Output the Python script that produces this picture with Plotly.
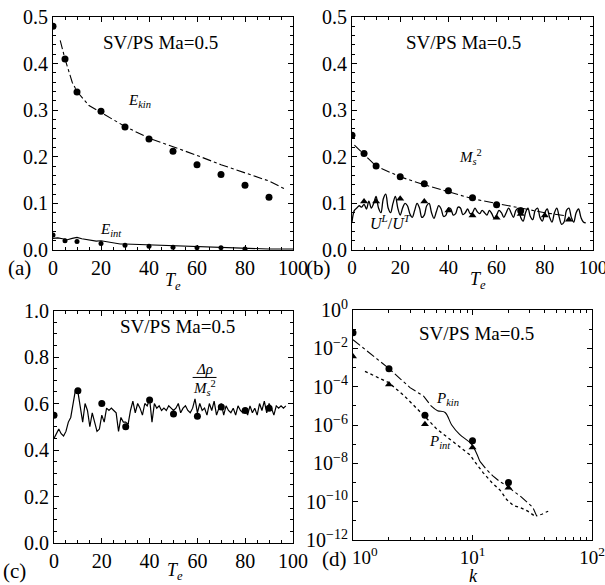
import plotly.graph_objects as go

# ---------------- panel (a) ----------------
a_dot_t = [0, 5, 10, 20, 30, 40, 50, 60, 70, 80, 90]
a_ekin_dots = [0.48, 0.41, 0.339, 0.298, 0.264, 0.238, 0.212, 0.183, 0.162, 0.139, 0.113]
a_ekin_line_t = [3, 5, 8, 10, 15, 20, 30, 40, 50, 60, 70, 80, 90, 97]
a_ekin_line = [0.45, 0.41, 0.36, 0.34, 0.31, 0.295, 0.265, 0.24, 0.222, 0.203, 0.183, 0.165, 0.148, 0.13]
a_eint_dot_t = [0, 5, 10, 20, 30, 40, 50, 60, 70, 80]
a_eint_dots = [0.032, 0.02, 0.018, 0.014, 0.01, 0.008, 0.006, 0.005, 0.005, 0.002]
a_eint_line_t = [0, 2, 4, 6, 8, 10, 12, 14, 16, 18, 20, 22, 24, 26, 28, 30, 35, 40, 45, 50,
                 55, 60, 65, 70, 75, 80, 85, 90, 95, 100]
a_eint_line = [0.025, 0.026, 0.024, 0.022, 0.025, 0.027, 0.024, 0.022, 0.02, 0.019, 0.02, 0.018,
               0.016, 0.015, 0.013, 0.013, 0.012, 0.011, 0.01, 0.009, 0.008, 0.007, 0.006, 0.005,
               0.004, 0.003, 0.003, 0.002, 0.002, 0.002]

# ---------------- panel (b) ----------------
b_ms_t = [0, 5, 10, 20, 30, 40, 50, 60, 70]
b_ms_dots = [0.246, 0.207, 0.18, 0.157, 0.142, 0.127, 0.112, 0.097, 0.084]
b_ms_line_t = [1, 5, 10, 20, 30, 40, 50, 60, 70, 80, 88]
b_ms_line = [0.225, 0.205, 0.18, 0.157, 0.14, 0.125, 0.11, 0.1, 0.09, 0.08, 0.074]
b_u_tri_t = [5, 10, 20, 30, 40, 50, 60, 70, 80, 90]
b_u_tri = [0.104, 0.104, 0.11, 0.104, 0.085, 0.074, 0.069, 0.077, 0.074, 0.065]
b_u_line_t = list(range(0, 98))
b_u_line = [0.06, 0.085, 0.09, 0.095, 0.092, 0.098, 0.088, 0.105, 0.09, 0.1,
            0.115, 0.09, 0.08, 0.11, 0.12, 0.09, 0.08, 0.1, 0.115, 0.09,
            0.075, 0.09, 0.1, 0.095, 0.078, 0.07, 0.085, 0.1, 0.09, 0.07,
            0.075, 0.095, 0.1, 0.08, 0.068, 0.082, 0.095, 0.088, 0.072, 0.075,
            0.09, 0.088, 0.075, 0.078, 0.092, 0.09, 0.076, 0.08, 0.088, 0.078,
            0.08, 0.09, 0.082, 0.078, 0.085, 0.08, 0.075, 0.085, 0.078, 0.068,
            0.075, 0.085, 0.08, 0.07, 0.08, 0.09, 0.08, 0.07, 0.085, 0.09,
            0.07, 0.062, 0.08, 0.09, 0.072, 0.065, 0.085, 0.09, 0.07, 0.062,
            0.08, 0.088, 0.07, 0.06, 0.08, 0.09, 0.07, 0.055, 0.06, 0.085,
            0.09, 0.07, 0.06, 0.08, 0.088, 0.07, 0.06, 0.058]

# ---------------- panel (c) ----------------
c_dot_t = [0, 10, 20, 30, 40, 50, 60, 70, 80, 90]
c_dots = [0.55, 0.655, 0.6, 0.5, 0.615, 0.555, 0.545, 0.585, 0.57, 0.58]
c_line_t = list(range(0, 98))
c_line = [0.45, 0.47, 0.49, 0.47, 0.46, 0.48, 0.52, 0.54, 0.60, 0.66,
          0.65, 0.58, 0.52, 0.60, 0.57, 0.50, 0.56, 0.52, 0.48, 0.49,
          0.55, 0.52, 0.58, 0.57, 0.58, 0.57, 0.56, 0.48, 0.54, 0.52,
          0.52, 0.51, 0.57, 0.61, 0.56, 0.60, 0.58, 0.55, 0.60, 0.59,
          0.62, 0.52, 0.60, 0.58, 0.59, 0.57, 0.58, 0.57, 0.59, 0.58,
          0.57, 0.58, 0.60, 0.56, 0.58, 0.59, 0.57, 0.56, 0.58, 0.62,
          0.56, 0.60, 0.57, 0.58, 0.55, 0.60, 0.57, 0.61, 0.55, 0.58,
          0.60, 0.55, 0.59, 0.57, 0.56, 0.58, 0.55, 0.59, 0.57, 0.56,
          0.58, 0.55, 0.59, 0.56, 0.58, 0.55, 0.60, 0.57, 0.61, 0.56,
          0.60, 0.58, 0.55, 0.59, 0.58, 0.59, 0.58, 0.59]

# ---------------- panel (d) ----------------
d_k = [1, 2, 4, 10, 20]
d_pkin_dots = [6.6e-2, 8.7e-4, 3.2e-6, 1.5e-7, 1.0e-9]
d_pint_tri = [3.8e-3, 1.3e-4, 1.1e-6, 6.8e-8, 5.4e-10]
d_pkin_k = [1, 1.5, 2, 2.5, 3, 3.9, 4.5, 5.1, 5.9, 6.7, 7.8, 9.8, 11.5, 13, 14.8, 17,
            19.3, 22, 25, 28, 32, 34.4, 38, 43]
d_pkin = [2.8e-2, 3.5e-3, 8.9e-4, 2.5e-4, 8.9e-5, 3.2e-5, 1.0e-5, 5.6e-6, 4.5e-6, 1.0e-6,
          3.2e-7, 1.0e-7, 1.3e-8, 5.0e-9, 2.2e-9, 1.1e-9, 7.1e-10, 3.5e-10, 2.0e-10,
          1.1e-10, 5.0e-11, 1.8e-11, 2.2e-11, 3.2e-11]
d_pint_k = [1.26, 1.6, 2, 2.7, 3.4, 4.2, 5, 5.9, 6.8, 8, 9.5, 11, 12.3, 14.5, 17, 19.3,
            22, 25, 29, 34]
d_pint = [6.3e-4, 3.2e-4, 1.6e-4, 3.2e-5, 7.9e-6, 2.0e-6, 6.3e-7, 2.8e-7, 1.4e-7, 6.3e-8,
          2.8e-8, 7.9e-9, 3.2e-9, 1.0e-9, 4.0e-10, 1.3e-10, 6.3e-11, 5.0e-11, 3.2e-11, 1.6e-11]
d_xtick_vals = [1, 10, 100]
d_xtick_text = ["\u00a0\u00a0\u00a0\u00a0\u00a010<sup>0</sup>", "10<sup>1</sup>", "10<sup>2</sup>"]
d_ytick_vals = [1, 1e-2, 1e-4, 1e-6, 1e-8, 1e-10, 1e-12]
d_ytick_text = ["10<sup>0</sup>", "10<sup>−2</sup>", "10<sup>−4</sup>", "10<sup>−6</sup>",
                "10<sup>−8</sup>", "10<sup>−10</sup>", "10<sup>−12</sup>"]

FONT = "Liberation Serif, DejaVu Serif, Times New Roman, serif"
BLACK = "black"

fig = go.Figure()

def line(x, y, xa, ya, dash="solid", width=1.1, shape="linear"):
    fig.add_trace(go.Scatter(x=x, y=y, mode="lines", xaxis=xa, yaxis=ya,
                             line=dict(color=BLACK, width=width, dash=dash, shape=shape),
                             showlegend=False, hoverinfo="skip"))

def marks(x, y, xa, ya, symbol="circle", size=7):
    fig.add_trace(go.Scatter(x=x, y=y, mode="markers", xaxis=xa, yaxis=ya,
                             marker=dict(color=BLACK, size=size, symbol=symbol),
                             showlegend=False, hoverinfo="skip"))

# (a)
line(a_ekin_line_t, a_ekin_line, "x", "y", dash="dashdot")
marks(a_dot_t, a_ekin_dots, "x", "y")
line(a_eint_line_t, a_eint_line, "x", "y")
marks(a_eint_dot_t, a_eint_dots, "x", "y", size=5)
# (b)
line(b_ms_line_t, b_ms_line, "x2", "y2", dash="dashdot")
marks(b_ms_t, b_ms_dots, "x2", "y2")
line(b_u_line_t, b_u_line, "x2", "y2", shape="spline", width=1.3)
marks(b_u_tri_t, b_u_tri, "x2", "y2", symbol="triangle-up")
# (c)
line(c_line_t, c_line, "x3", "y3", width=1.2)
marks(c_dot_t, c_dots, "x3", "y3")
# (d)
line(d_pkin_k[:7], d_pkin[:7], "x4", "y4", dash="dashdot")
line(d_pkin_k[6:13], d_pkin[6:13], "x4", "y4", shape="spline")
line(d_pkin_k[12:], d_pkin[12:], "x4", "y4", dash="dashdot")
line(d_pint_k, d_pint, "x4", "y4", dash="dot", width=1.3)
marks(d_k, d_pkin_dots, "x4", "y4")
marks(d_k, d_pint_tri, "x4", "y4", symbol="triangle-up")

def axis(domain, rng, dtick, minor_dtick, anchor, typ="linear", fmt=None,
         tickvals=None, ticktext=None, size=20):
    d = dict(domain=domain, range=rng, type=typ, anchor=anchor, automargin=False,
             ticklabeloverflow="allow",
             showline=True, linecolor=BLACK, linewidth=1.2, mirror="allticks",
             ticks="inside", ticklen=5, tickcolor=BLACK, showgrid=False, zeroline=False,
             tickfont=dict(family=FONT, size=size, color=BLACK),
             minor=dict(ticks="inside", ticklen=3, dtick=minor_dtick, tickcolor=BLACK,
                        showgrid=False))
    if tickvals is not None:
        d["tickmode"] = "array"
        d["tickvals"] = tickvals
        d["ticktext"] = ticktext
    else:
        d["dtick"] = dtick
    if fmt:
        d["tickformat"] = fmt
    return d

Y_TOP = [1 - 250 / 585, 1 - 17 / 585]
Y_BOT_C = [1 - 543 / 585, 1 - 310.5 / 585]
Y_BOT_D = [1 - 540 / 585, 1 - 310 / 585]

fig.update_layout(
    width=605, height=585, margin=dict(l=0, r=0, t=0, b=0),
    paper_bgcolor="white", plot_bgcolor="white",
    font=dict(family=FONT, size=18, color=BLACK),
    xaxis=axis([53 / 605, 293 / 605], [0, 100], 20, 5, "y", fmt="d"),
    yaxis=axis(Y_TOP, [0, 0.5], 0.1, 0.02, "x", fmt=".1f"),
    xaxis2=axis([352 / 605, 593 / 605], [0, 100], 20, 5, "y2", fmt="d", size=19),
    yaxis2=axis(Y_TOP, [0, 0.5], 0.1, 0.02, "x2", fmt=".1f"),
    xaxis3=axis([54 / 605, 293 / 605], [0, 100], 20, 5, "y3", fmt="d"),
    yaxis3=axis(Y_BOT_C, [0, 1], 0.2, 0.05, "x3", fmt=".1f"),
    xaxis4=axis([353 / 605, 592 / 605], [0, 2], None, "D1", "y4", typ="log",
                tickvals=d_xtick_vals, ticktext=d_xtick_text, size=19),
    yaxis4=axis(Y_BOT_D, [-12, 0], None, 1, "x4", typ="log",
                tickvals=d_ytick_vals, ticktext=d_ytick_text),
)

def ann(text, x, y, xref="paper", yref="paper", size=18):
    fig.add_annotation(text=text, x=x, y=y, xref=xref, yref=yref, showarrow=False,
                       font=dict(family=FONT, size=size, color=BLACK),
                       xanchor="center", yanchor="middle")

title = "SV/PS Ma=0.5"
ann(title, 160 / 605, 1 - 43 / 585, size=19)
ann(title, 463 / 605, 1 - 43 / 585, size=19)
ann(title, 177 / 605, 1 - 326 / 585, size=19)
ann(title, 476 / 605, 1 - 333 / 585, size=19)

ann("(a)", 19 / 605, 1 - 268 / 585, size=21)
ann("(b)", 318 / 605, 1 - 268 / 585, size=21)
ann("(c)", 14 / 605, 1 - 571 / 585, size=21)
ann("(d)", 334 / 605, 1 - 559 / 585, size=21)

te = "<i>T<sub>e</sub></i>"
ann(te, 173 / 605, 1 - 281 / 585)
ann(te, 478 / 605, 1 - 280 / 585)
ann(te, 175 / 605, 1 - 571 / 585)
ann("<i>k</i>", 473 / 605, 1 - 576 / 585)

ann("<i>E<sub>kin</sub></i>", 36, 0.32, "x", "y", size=15)
ann("<i>E<sub>int</sub></i>", 24, 0.043, "x", "y", size=15)
ann("<i>M<sub>s</sub></i><sup>2</sup>", 49, 0.2, "x2", "y2", size=15)
ann("<i>U<sup>L</sup></i>/<i>U<sup>T</sup></i>", 16, 0.06, "x2", "y2", size=16)
ann("<i>Δρ</i>", 63, 0.75, "x3", "y3", size=15)
ann("<i>M<sub>s</sub></i><sup>2</sup>", 63, 0.665, "x3", "y3", size=15)
fig.add_shape(type="line", x0=58, x1=68, y0=0.712, y1=0.712, xref="x3", yref="y3",
              line=dict(color=BLACK, width=1))
ann("<i>P<sub>kin</sub></i>", 0.79, -4.66, "x4", "y4", size=15)
ann("<i>P<sub>int</sub></i>", 0.73, -6.89, "x4", "y4", size=15)

fig.write_html("out.html")
